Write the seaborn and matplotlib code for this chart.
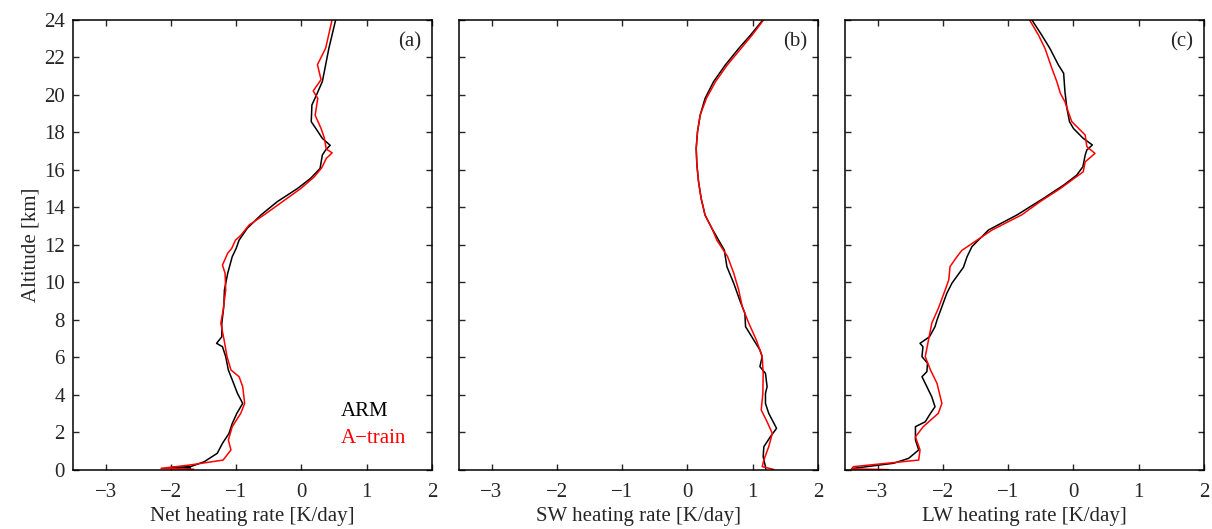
import numpy as np
import pandas as pd
import matplotlib
matplotlib.use("Agg")
import matplotlib.pyplot as plt
import seaborn as sns

# ---------------- data ----------------
# Panel (a) Net heating rate
net_arm_alt = [0.10, 0.14, 0.18, 0.44, 0.89, 1.42, 1.95, 2.48, 3.02, 3.55, 4.08, 4.80, 5.33, 6.04, 6.57, 6.75, 7.10, 7.82, 8.70, 9.59, 10.48, 11.37, 11.81, 12.25, 12.88, 13.59, 14.30, 15.00, 15.54, 16.07, 16.78, 17.05, 17.30, 17.67, 18.20, 18.56, 19.45, 19.98, 20.70, 21.40, 22.47, 24.00]
net_arm_val = [-1.70, -2.00, -1.70, -1.49, -1.29, -1.21, -1.11, -1.06, -0.99, -0.90, -0.98, -1.06, -1.12, -1.16, -1.21, -1.30, -1.22, -1.22, -1.19, -1.18, -1.13, -1.06, -1.00, -0.955, -0.83, -0.62, -0.37, -0.06, 0.14, 0.285, 0.32, 0.37, 0.44, 0.32, 0.22, 0.15, 0.16, 0.23, 0.32, 0.36, 0.42, 0.525]
net_atr_alt = [0.04, 0.09, 0.27, 0.53, 1.07, 1.60, 2.31, 3.02, 3.55, 4.44, 4.97, 5.33, 6.04, 6.93, 7.82, 8.52, 9.59, 10.48, 10.92, 11.55, 11.80, 12.25, 12.50, 13.06, 13.60, 14.30, 15.00, 15.60, 16.10, 16.60, 16.90, 17.10, 17.70, 18.20, 18.90, 19.80, 20.20, 20.80, 21.60, 22.47, 24.00]
net_atr_val = [-1.65, -2.15, -1.70, -1.20, -1.08, -1.12, -1.06, -0.93, -0.87, -0.90, -0.955, -1.08, -1.14, -1.185, -1.235, -1.20, -1.16, -1.17, -1.21, -1.13, -1.07, -1.01, -0.93, -0.80, -0.57, -0.29, -0.01, 0.19, 0.31, 0.38, 0.47, 0.38, 0.35, 0.30, 0.21, 0.25, 0.18, 0.30, 0.245, 0.37, 0.47]

# Panel (b) SW heating rate
sw_arm_alt = [0.05, 0.18, 0.71, 1.24, 1.77, 2.22, 3.02, 3.55, 4.08, 4.44, 5.15, 5.51, 6.04, 6.40, 6.93, 7.64, 8.35, 9.06, 9.94, 10.83, 11.37, 11.72, 12.25, 12.87, 13.58, 14.47, 15.36, 16.25, 17.13, 18.02, 18.91, 19.80, 20.69, 21.58, 22.46, 23.17, 24.00]
sw_arm_val = [1.20, 1.195, 1.16, 1.17, 1.27, 1.365, 1.245, 1.195, 1.195, 1.22, 1.195, 1.11, 1.145, 1.11, 1.015, 0.89, 0.88, 0.80, 0.71, 0.605, 0.58, 0.565, 0.477, 0.375, 0.27, 0.21, 0.17, 0.145, 0.134, 0.154, 0.195, 0.27, 0.40, 0.58, 0.785, 0.965, 1.16]
sw_atr_alt = [0.03, 0.05, 0.18, 0.53, 1.24, 1.95, 2.57, 3.20, 4.08, 5.15, 6.04, 6.93, 7.82, 8.70, 9.59, 10.48, 11.37, 12.25, 12.87, 13.58, 14.47, 15.36, 16.25, 17.13, 18.02, 18.91, 19.80, 20.69, 21.58, 22.46, 23.17, 24.00]
sw_atr_val = [1.32, 1.30, 1.145, 1.17, 1.245, 1.30, 1.22, 1.13, 1.155, 1.16, 1.145, 1.055, 0.94, 0.84, 0.785, 0.71, 0.615, 0.45, 0.375, 0.27, 0.21, 0.17, 0.145, 0.134, 0.154, 0.195, 0.29, 0.43, 0.61, 0.82, 0.99, 1.17]

# Panel (c) LW heating rate
lw_arm_alt = [0.09, 0.36, 0.62, 1.07, 1.60, 2.31, 2.57, 3.02, 3.37, 3.90, 4.44, 4.97, 5.24, 5.69, 6.04, 6.57, 6.75, 7.10, 7.64, 7.99, 8.70, 9.41, 9.96, 10.80, 11.36, 11.90, 12.79, 13.58, 14.47, 15.18, 15.71, 16.16, 16.78, 17.05, 17.32, 17.67, 18.20, 18.56, 19.27, 20.16, 21.14, 21.58, 22.46, 23.17, 24.00]
lw_arm_val = [-3.37, -2.755, -2.525, -2.37, -2.42, -2.42, -2.27, -2.19, -2.12, -2.17, -2.245, -2.32, -2.245, -2.235, -2.32, -2.305, -2.35, -2.205, -2.12, -2.09, -2.015, -1.94, -1.86, -1.685, -1.63, -1.555, -1.30, -0.87, -0.46, -0.15, 0.05, 0.145, 0.18, 0.205, 0.29, 0.15, 0.00, -0.06, -0.10, -0.13, -0.15, -0.23, -0.36, -0.485, -0.64]
lw_atr_alt = [0.02, 0.06, 0.18, 0.53, 1.07, 1.77, 2.31, 3.02, 3.55, 4.62, 5.33, 6.04, 6.93, 7.82, 8.61, 9.59, 10.13, 10.84, 11.36, 11.70, 12.78, 13.60, 14.30, 15.00, 15.89, 16.42, 16.87, 17.23, 17.85, 18.56, 19.09, 19.62, 20.07, 20.70, 21.40, 22.46, 23.17, 24.00]
lw_atr_val = [-2.83, -3.40, -3.37, -2.37, -2.35, -2.42, -2.30, -2.07, -2.015, -2.09, -2.19, -2.27, -2.22, -2.17, -2.07, -1.965, -1.91, -1.89, -1.785, -1.71, -1.25, -0.79, -0.51, -0.20, 0.15, 0.18, 0.33, 0.205, 0.18, -0.025, -0.08, -0.13, -0.20, -0.255, -0.33, -0.435, -0.535, -0.675]

panels = [
    ("(a)", "Net heating rate [K/day]", net_arm_alt, net_arm_val, net_atr_alt, net_atr_val),
    ("(b)", "SW heating rate [K/day]", sw_arm_alt, sw_arm_val, sw_atr_alt, sw_atr_val),
    ("(c)", "LW heating rate [K/day]", lw_arm_alt, lw_arm_val, lw_atr_alt, lw_atr_val),
]
series_names = ["ARM", "A\u2212train"]
series_colors = ["black", "#ff0000"]
x_ticks = [-3, -2, -1, 0, 1, 2]
y_ticks = list(range(0, 25, 2))

FS = 15

# ---------------- style ----------------
sns.set_theme(style="ticks")
plt.rcParams["font.family"] = ["Liberation Serif", "DejaVu Serif"]
plt.rcParams["axes.unicode_minus"] = True

fig, axes = plt.subplots(1, 3, figsize=(12.12, 5.29), dpi=100, sharey=True)
fig.subplots_adjust(left=0.0602, right=0.9934, top=0.963, bottom=0.1115, wspace=0.075)

for ax, (lab, xlabel, a_alt, a_val, t_alt, t_val) in zip(axes, panels):
    df = pd.concat([
        pd.DataFrame({"alt": a_alt, "val": a_val, "src": series_names[0]}),
        pd.DataFrame({"alt": t_alt, "val": t_val, "src": series_names[1]}),
    ])
    sns.lineplot(data=df, x="val", y="alt", hue="src", hue_order=series_names,
                 palette=series_colors, sort=False, estimator=None,
                 linewidth=1.1, legend=False, ax=ax)
    ax.set_xlim(-3.5, 2)
    ax.set_ylim(0, 24)
    ax.set_xticks(x_ticks)
    ax.set_yticks(y_ticks)
    ax.set_xlabel(xlabel, fontsize=FS, labelpad=4)
    ax.set_ylabel("")
    ax.tick_params(direction="in", length=4.5, width=1.0, top=True, right=True,
                   labelsize=FS)
    ax.tick_params(axis="x", pad=9)
    ax.tick_params(axis="y", pad=6)
    for sp in ax.spines.values():
        sp.set_visible(True)
        sp.set_linewidth(1.1)
        sp.set_color("black")
    ax.text(0.97, 0.951, lab, transform=ax.transAxes, ha="right", va="center", fontsize=FS)

axes[0].set_ylabel("Altitude [km]", fontsize=FS, labelpad=2)
for ax in axes[1:]:
    ax.tick_params(labelleft=False)

axes[0].text(0.745, 0.129, series_names[0], transform=axes[0].transAxes,
             color=series_colors[0], fontsize=FS, ha="left", va="center")
axes[0].text(0.745, 0.071, series_names[1], transform=axes[0].transAxes,
             color=series_colors[1], fontsize=FS, ha="left", va="center")

fig.savefig("out.png", dpi=100, facecolor="white")
